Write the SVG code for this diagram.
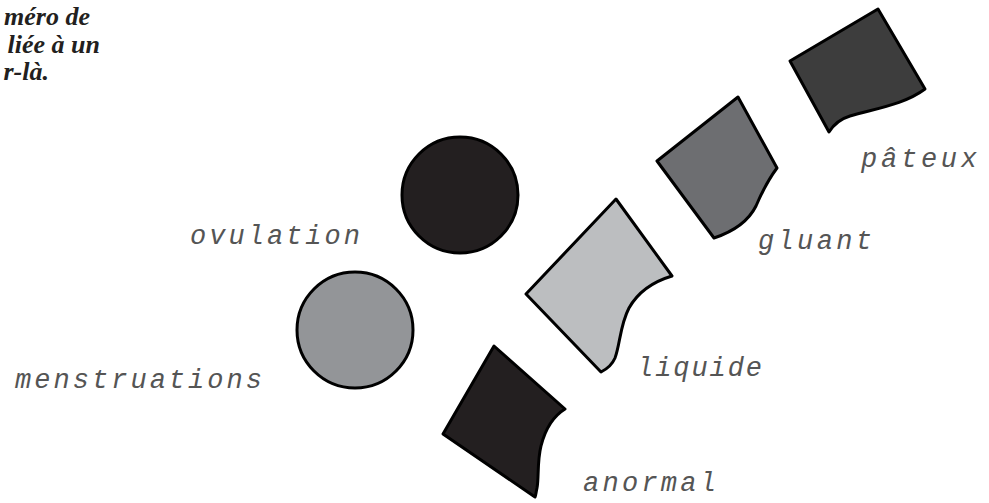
<svg xmlns="http://www.w3.org/2000/svg" width="989" height="503" viewBox="0 0 989 503">
<style>
.lbl{font-family:"Liberation Mono","DejaVu Sans Mono",monospace;font-style:italic;font-size:27px;fill:#555}
.note{font-family:"Liberation Serif","DejaVu Serif",serif;font-style:italic;font-weight:bold;font-size:26px;fill:#231f20}
.sh{stroke:#000;stroke-width:3;stroke-linejoin:round}
</style>
<rect width="989" height="503" fill="#fff"/>
<g id="note">
<text class="note" x="90" y="25" text-anchor="end">méro de</text>
<text class="note" x="100" y="53" text-anchor="end">liée à un</text>
<text class="note" x="49" y="80" text-anchor="end">r-là.</text>
</g>
<g id="ovulation">
<circle class="sh" cx="460" cy="195" r="58" fill="#231f20"/>
<text class="lbl" x="190" y="244" textLength="170">ovulation</text>
</g>
<g id="menstruations">
<circle class="sh" cx="355" cy="330" r="58" fill="#939598"/>
<text class="lbl" x="15" y="388" textLength="247">menstruations</text>
</g>
<g id="pateux">
<path class="sh" fill="#3d3d3d" d="M790,61 L878,9 L925,89 C905,104 878,108 850,116 C840,119 834,124 829,132 Z"/>
<text class="lbl" x="861" y="167" textLength="116">pâteux</text>
</g>
<g id="gluant">
<path class="sh" fill="#6d6e71" d="M657,161 L738,97 L777,168 C768,180 762,192 756,206 C748,222 732,232 714,238 Z"/>
<text class="lbl" x="758" y="249" textLength="114">gluant</text>
</g>
<g id="liquide">
<path class="sh" fill="#bcbec0" d="M526,294 L616,199 L672,276 C652,282 638,292 629,308 C620,325 620,345 615,358 C612,365 607,369 601,372 Z"/>
<text class="lbl" x="637" y="376" textLength="125">liquide</text>
</g>
<g id="anormal">
<path class="sh" fill="#231f20" d="M443,434 L494,346 L565,409 C552,417 545,430 541,446 C537,462 539,478 537,488 C536,492 536,495 535,497 Z"/>
<text class="lbl" x="583" y="491" textLength="133">anormal</text>
</g>
</svg>
